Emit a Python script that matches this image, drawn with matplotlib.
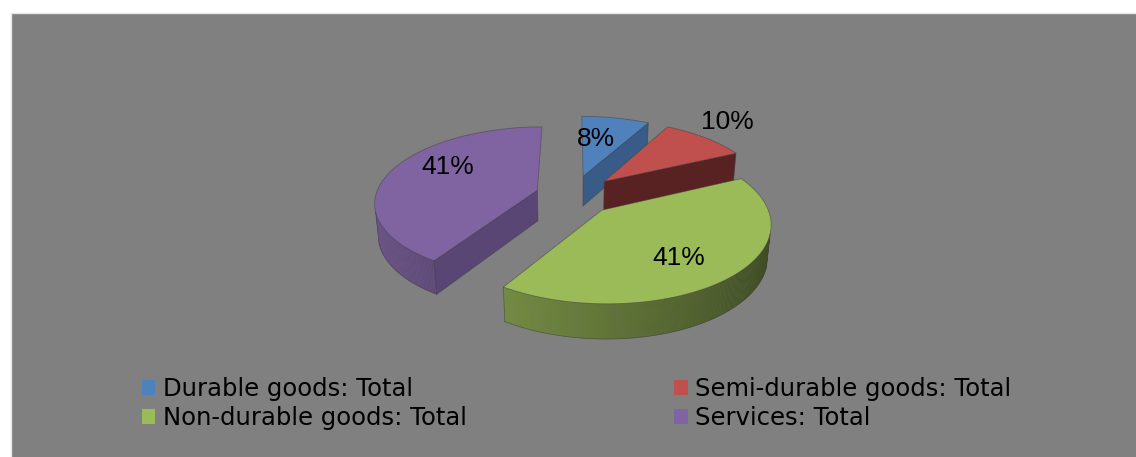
#!/usr/bin/env python
import numpy as np
import matplotlib
matplotlib.use('Agg')
from matplotlib import pyplot as plt
from matplotlib.patches import Polygon, Rectangle, Patch

categories = ['Durable goods: Total', 'Semi-durable goods: Total',
              'Non-durable goods: Total', 'Services: Total']
shares = [8, 10, 41, 41]

top_colors = ['#4f81bd', '#c0504d', '#9bbb59', '#8064a2']
wall_colors = ['#385b88', '#582222', '#71893f', '#5a4675']

# 3d pie view (pixels of the 1136x457 canvas)
cx, cy = 572.7, 195.0
scale = 161.5
elev = np.radians(27.4)
dist = 5.85
height = 0.218
explode = [0.269, 0.275, 0.264, 0.230]
label_r = [0.60, 1.34, 0.69, 0.69]
label_dth = [5, 3, -5, -13]

cam = dist * np.array([0, -np.cos(elev), np.sin(elev)])


def world(th, r, bot, off):
    t = np.radians(th)
    return np.array([off[0] + r * np.cos(t), off[1] + r * np.sin(t), -height * bot])


def proj(P):
    X, Y, Z = P
    w = -Y * np.cos(elev) + Z * np.sin(elev)
    s = dist / (dist - w)
    return (cx + scale * X * s, cy - scale * (Y * np.sin(elev) + Z * np.cos(elev)) * s)


def pt(th, r, bot, off):
    return proj(world(th, r, bot, off))


def facing(n, P):
    v = cam - P
    return n @ v / np.linalg.norm(v)


def shade(c, f):
    rgb = np.array(matplotlib.colors.to_rgb(c))
    return tuple(np.clip(rgb * f, 0, 1))


fig = plt.figure(figsize=(11.36, 4.57), dpi=100)
ax = fig.add_axes([0, 0, 1, 1])
ax.set_xlim(0, 1136)
ax.set_ylim(457, 0)
ax.axis('off')
ax.add_patch(Rectangle((11, 13), 1136, 457, facecolor='#808080',
                       edgecolor='#e9e7dc', lw=1.0))

frac = np.array(shares, dtype=float) / sum(shares)
cum = np.concatenate([[0], np.cumsum(frac)])
edge = (0.25, 0.25, 0.25, 0.55)

slices = []
for i in range(len(shares)):
    t1 = 90 - 360 * cum[i + 1]
    t2 = 90 - 360 * cum[i]
    mid = 0.5 * (t1 + t2)
    off = explode[i] * np.array([np.cos(np.radians(mid)), np.sin(np.radians(mid))])
    slices.append((i, t1, t2, mid, off))


def cam_dist(s):
    return np.linalg.norm(cam - world(s[3], 0.5, 0, s[4]))


# farthest slices first
for i, t1, t2, mid, off in sorted(slices, key=cam_dist, reverse=True):
    # radial walls
    for th, side in ((t1, -90), (t2, 90)):
        n = np.array([np.cos(np.radians(th + side)), np.sin(np.radians(th + side)), 0])
        if facing(n, world(th, 0.5, 0, off)) > 0.05:
            quad = [pt(0, 0, 0, off), pt(th, 1, 0, off),
                    pt(th, 1, 1, off), pt(0, 0, 1, off)]
            ax.add_patch(Polygon(quad, closed=True, facecolor=wall_colors[i],
                                 edgecolor=edge, lw=0.6))
    # outer curved wall, visible part only
    ths = np.linspace(t1, t2, 240)
    vis = []
    for a, b in zip(ths[:-1], ths[1:]):
        m = np.radians(0.5 * (a + b))
        n = np.array([np.cos(m), np.sin(m), 0])
        if facing(n, world(np.degrees(m), 1, 0, off)) <= 0.05:
            continue
        vis += [a, b]
        f = 0.625 - 0.225 * np.cos(m)
        quad = [pt(a, 1, 0, off), pt(b, 1, 0, off), pt(b, 1, 1, off), pt(a, 1, 1, off)]
        ax.add_patch(Polygon(quad, closed=True, facecolor=shade(top_colors[i], f),
                             edgecolor=shade(top_colors[i], f), lw=0.3))
    if vis:
        arc = [pt(t, 1, 1, off) for t in np.linspace(min(vis), max(vis), 120)]
        ax.plot([p[0] for p in arc], [p[1] for p in arc], color=edge, lw=0.6)
        for t in (min(vis), max(vis)):
            p, q = pt(t, 1, 0, off), pt(t, 1, 1, off)
            ax.plot([p[0], q[0]], [p[1], q[1]], color=edge, lw=0.6)
    # top face
    face = [pt(0, 0, 0, off)] + [pt(t, 1, 0, off) for t in ths]
    ax.add_patch(Polygon(face, closed=True, facecolor=top_colors[i],
                         edgecolor=edge, lw=0.6))

for i, t1, t2, mid, off in slices:
    x, y = pt(mid + label_dth[i], label_r[i], 0, off)
    ax.text(x, y, f'{shares[i]:.0f}%', ha='center', va='center',
            fontsize=19, family='Liberation Sans', color='black')

handles = [Patch(facecolor=top_colors[k], edgecolor='none') for k in (0, 2, 1, 3)]
labels = [categories[k] for k in (0, 2, 1, 3)]
ax.legend(handles, labels, ncol=2, loc='upper left', bbox_to_anchor=(142, 377),
          bbox_transform=ax.transData, frameon=False,
          prop={'family': 'DejaVu Sans', 'size': 17.5},
          handlelength=0.55, handleheight=0.6, handletextpad=0.3,
          columnspacing=8.55, labelspacing=0.2, borderpad=0, borderaxespad=0)

fig.savefig('out.png', dpi=100)
